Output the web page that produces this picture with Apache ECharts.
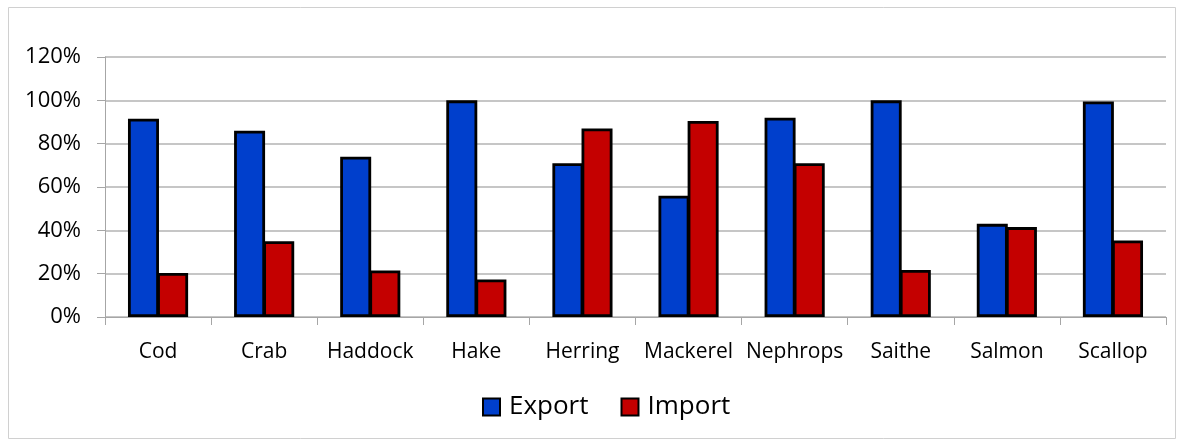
<!DOCTYPE html>
<html>
<head>
<meta charset="utf-8">
<script src="https://cdn.jsdelivr.net/npm/echarts@6/dist/echarts.min.js"></script>
<style>
  html, body { margin: 0; padding: 0; background: #ffffff; }
  #chart { width: 1183px; height: 445px; }
</style>
</head>
<body>
<div id="chart"></div>
<script>
// Share of landings traded, by species
const species = ['Cod', 'Crab', 'Haddock', 'Hake', 'Herring', 'Mackerel', 'Nephrops', 'Saithe', 'Salmon', 'Scallop'];
const exportShare = [91.5, 86, 74, 100, 71, 56, 92, 100, 43, 99.5];
const importShare = [20.3, 35, 21.5, 17.3, 87, 90.5, 71, 21.7, 41.5, 35.3];
const yTicks = [0, 20, 40, 60, 80, 100, 120];

const FONT = '"Open Sans", "Noto Sans", sans-serif';

const chart = echarts.init(document.getElementById('chart'), null, { renderer: 'canvas' });

chart.setOption({
  animation: false,
  backgroundColor: '#ffffff',
  graphic: [{
    type: 'rect',
    shape: { x: 8.5, y: 7.5, width: 1167, height: 431 },
    style: { fill: 'none', stroke: '#d0d0d0', lineWidth: 1 },
    silent: true
  }],
  grid: { left: 105, right: 17, top: 57, bottom: 128, containLabel: false },
  legend: {
    data: ['Export', 'Import'],
    bottom: 20,
    left: 477,
    itemWidth: 17,
    itemHeight: 17,
    itemGap: 32,
    icon: 'rect',
    textStyle: { fontFamily: FONT, fontSize: 26, color: '#000000', padding: [0, 0, 0, 4] },
    itemStyle: { borderColor: '#000000', borderWidth: 2 }
  },
  xAxis: {
    type: 'category',
    data: species,
    axisLine: { lineStyle: { color: '#a6a6a6', width: 1 } },
    axisTick: { show: true, length: 8, lineStyle: { color: '#a6a6a6' } },
    axisLabel: { interval: 0, fontFamily: FONT, fontSize: 21, color: '#000000', margin: 25 }
  },
  yAxis: {
    type: 'value',
    min: yTicks[0],
    max: yTicks[yTicks.length - 1],
    interval: 20,
    axisLine: { show: true, lineStyle: { color: '#a6a6a6', width: 1 } },
    axisTick: { show: true, length: 8, lineStyle: { color: '#a6a6a6' } },
    splitLine: { lineStyle: { color: '#b3b3b3', width: 1.5 } },
    axisLabel: {
      fontFamily: FONT, fontSize: 22, color: '#000000', margin: 24,
      formatter: v => v + '%'
    }
  },
  series: [
    {
      name: 'Export',
      type: 'bar',
      data: exportShare,
      barWidth: 31,
      barGap: '-6%',
      itemStyle: { color: '#003fcc', borderColor: '#000000', borderWidth: 2.8 }
    },
    {
      name: 'Import',
      type: 'bar',
      data: importShare,
      barWidth: 31,
      barGap: '-6%',
      itemStyle: { color: '#c40000', borderColor: '#000000', borderWidth: 2.8 }
    }
  ]
});
</script>
</body>
</html>
